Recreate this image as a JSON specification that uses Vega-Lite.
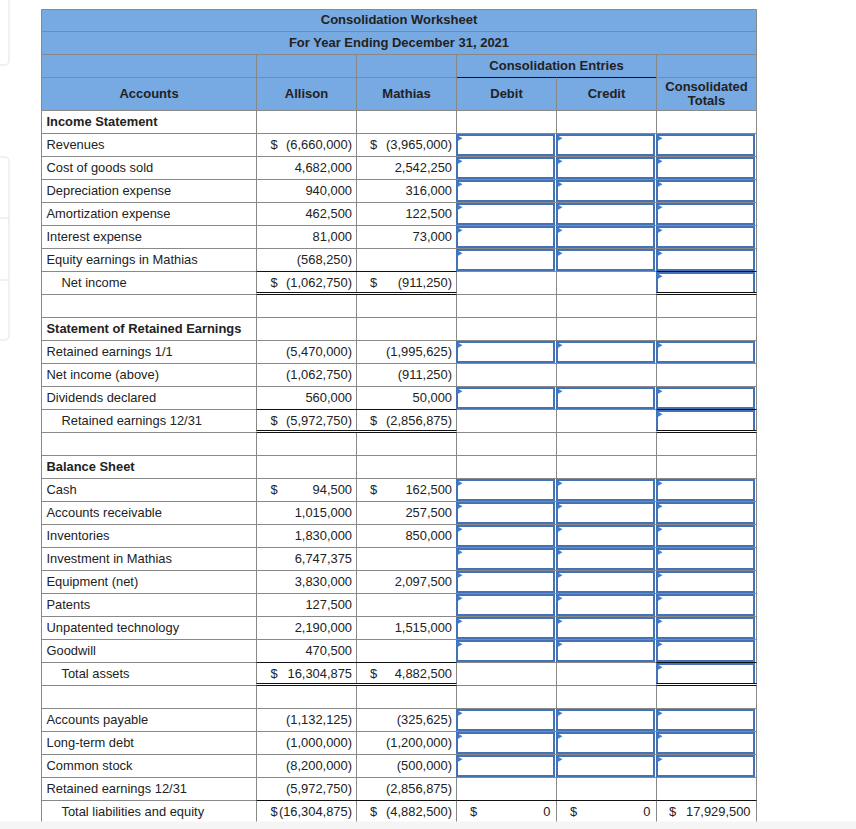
{
  "$schema": "https://vega.github.io/schema/vega-lite/v6.json",
  "width": 856,
  "height": 829,
  "padding": 0,
  "autosize": {"type": "none"},
  "background": "white",
  "config": {
    "view": {"stroke": null},
    "text": {"font": "Liberation Sans", "fontSize": 12.9, "fill": "#222222", "baseline": "middle"}
  },
  "datasets": {
    "one": [{}],
    "rows": [
      {"r": 0, "kind": "section", "label": "Income Statement"},
      {"r": 1, "kind": "item", "label": "Revenues", "aS": "$", "a": "(6,660,000)", "mS": "$", "m": "(3,965,000)", "entry": "dct"},
      {"r": 2, "kind": "item", "label": "Cost of goods sold", "a": "4,682,000", "m": "2,542,250", "entry": "dct"},
      {"r": 3, "kind": "item", "label": "Depreciation expense", "a": "940,000", "m": "316,000", "entry": "dct"},
      {"r": 4, "kind": "item", "label": "Amortization expense", "a": "462,500", "m": "122,500", "entry": "dct"},
      {"r": 5, "kind": "item", "label": "Interest expense", "a": "81,000", "m": "73,000", "entry": "dct"},
      {"r": 6, "kind": "item", "label": "Equity earnings in Mathias", "a": "(568,250)", "entry": "dct"},
      {"r": 7, "kind": "total", "label": "Net income", "aS": "$", "a": "(1,062,750)", "mS": "$", "m": "(911,250)", "entry": "t"},
      {"r": 8, "kind": "blank"},
      {"r": 9, "kind": "section", "label": "Statement of Retained Earnings"},
      {"r": 10, "kind": "item", "label": "Retained earnings 1/1", "a": "(5,470,000)", "m": "(1,995,625)", "entry": "dct"},
      {"r": 11, "kind": "item", "label": "Net income (above)", "a": "(1,062,750)", "m": "(911,250)"},
      {"r": 12, "kind": "item", "label": "Dividends declared", "a": "560,000", "m": "50,000", "entry": "dct"},
      {"r": 13, "kind": "total", "label": "Retained earnings 12/31", "aS": "$", "a": "(5,972,750)", "mS": "$", "m": "(2,856,875)", "entry": "t"},
      {"r": 14, "kind": "blank"},
      {"r": 15, "kind": "section", "label": "Balance Sheet"},
      {"r": 16, "kind": "item", "label": "Cash", "aS": "$", "a": "94,500", "mS": "$", "m": "162,500", "entry": "dct"},
      {"r": 17, "kind": "item", "label": "Accounts receivable", "a": "1,015,000", "m": "257,500", "entry": "dct"},
      {"r": 18, "kind": "item", "label": "Inventories", "a": "1,830,000", "m": "850,000", "entry": "dct"},
      {"r": 19, "kind": "item", "label": "Investment in Mathias", "a": "6,747,375", "entry": "dct"},
      {"r": 20, "kind": "item", "label": "Equipment (net)", "a": "3,830,000", "m": "2,097,500", "entry": "dct"},
      {"r": 21, "kind": "item", "label": "Patents", "a": "127,500", "entry": "dct"},
      {"r": 22, "kind": "item", "label": "Unpatented technology", "a": "2,190,000", "m": "1,515,000", "entry": "dct"},
      {"r": 23, "kind": "item", "label": "Goodwill", "a": "470,500", "entry": "dct"},
      {"r": 24, "kind": "total", "label": "Total assets", "aS": "$", "a": "16,304,875", "mS": "$", "m": "4,882,500", "entry": "t"},
      {"r": 25, "kind": "blank"},
      {"r": 26, "kind": "item", "label": "Accounts payable", "a": "(1,132,125)", "m": "(325,625)", "entry": "dct"},
      {"r": 27, "kind": "item", "label": "Long-term debt", "a": "(1,000,000)", "m": "(1,200,000)", "entry": "dct"},
      {"r": 28, "kind": "item", "label": "Common stock", "a": "(8,200,000)", "m": "(500,000)", "entry": "dct"},
      {"r": 29, "kind": "item", "label": "Retained earnings 12/31", "a": "(5,972,750)", "m": "(2,856,875)"},
      {"r": 30, "kind": "grand", "label": "Total liabilities and equity", "aS": "$", "a": "(16,304,875)", "mS": "$", "m": "(4,882,500)", "dS": "$", "d": "0", "cS": "$", "c": "0", "tS": "$", "t": "17,929,500"}
    ]
  },
  "data": {"name": "rows"},
  "layer": [
    {"data": {"name": "one"}, "mark": {"type": "rect", "fill": "#77A9E3"},
     "encoding": {
       "x": {"datum": 0, "type": "quantitative", "scale": {"domain": [-0.415, 8.145], "nice": false, "zero": false}, "axis": null},
       "x2": {"datum": 7.15},
       "y": {"datum": -4.3913, "type": "quantitative", "scale": {"domain": [-4.8043, 31.2391], "nice": false, "zero": false, "reverse": true}, "axis": null},
       "y2": {"datum": 0}}},

    {"data": {"name": "one"}, "mark": {"type": "rule", "stroke": "#888888", "strokeWidth": 1},
     "encoding": {"x": {"datum": 0, "axis": null}, "x2": {"datum": 7.15}, "y": {"datum": -4.3913, "axis": null}}},
    {"data": {"name": "one"}, "mark": {"type": "rule", "stroke": "#888888", "strokeWidth": 1},
     "encoding": {"x": {"datum": 0, "axis": null}, "x2": {"datum": 7.15}, "y": {"datum": -3.4348, "axis": null}}},
    {"data": {"name": "one"}, "mark": {"type": "rule", "stroke": "#888888", "strokeWidth": 1},
     "encoding": {"x": {"datum": 0, "axis": null}, "x2": {"datum": 7.15}, "y": {"datum": -2.4348, "axis": null}}},
    {"data": {"name": "one"}, "mark": {"type": "rule", "stroke": "#888888", "strokeWidth": 1},
     "encoding": {"x": {"datum": 0, "axis": null}, "x2": {"datum": 4.15}, "y": {"datum": -1.4348, "axis": null}}},
    {"data": {"name": "one"}, "mark": {"type": "rule", "stroke": "#888888", "strokeWidth": 1},
     "encoding": {"x": {"datum": 6.15, "axis": null}, "x2": {"datum": 7.15}, "y": {"datum": -1.4348, "axis": null}}},
    {"data": {"name": "one"}, "mark": {"type": "rule", "stroke": "#111111", "strokeWidth": 1},
     "encoding": {"x": {"datum": 4.15, "axis": null}, "x2": {"datum": 6.15}, "y": {"datum": -1.4348, "axis": null}}},

    {"mark": {"type": "rule", "stroke": "#888888", "strokeWidth": 1},
     "encoding": {"x": {"datum": 0, "axis": null}, "x2": {"datum": 7.15}, "y": {"field": "r", "type": "quantitative", "axis": null}}},

    {"data": {"name": "one"}, "mark": {"type": "rule", "stroke": "#888888", "strokeWidth": 1},
     "encoding": {"x": {"datum": 0, "axis": null}, "y": {"datum": -4.3913, "axis": null}, "y2": {"datum": 31.5}}},
    {"data": {"name": "one"}, "mark": {"type": "rule", "stroke": "#888888", "strokeWidth": 1},
     "encoding": {"x": {"datum": 7.15, "axis": null}, "y": {"datum": -4.3913, "axis": null}, "y2": {"datum": 31.5}}},
    {"data": {"name": "one"}, "mark": {"type": "rule", "stroke": "#888888", "strokeWidth": 1},
     "encoding": {"x": {"datum": 2.15, "axis": null}, "y": {"datum": -2.4348, "axis": null}, "y2": {"datum": 31.5}}},
    {"data": {"name": "one"}, "mark": {"type": "rule", "stroke": "#888888", "strokeWidth": 1},
     "encoding": {"x": {"datum": 3.15, "axis": null}, "y": {"datum": -2.4348, "axis": null}, "y2": {"datum": 31.5}}},
    {"data": {"name": "one"}, "mark": {"type": "rule", "stroke": "#888888", "strokeWidth": 1},
     "encoding": {"x": {"datum": 4.15, "axis": null}, "y": {"datum": -2.4348, "axis": null}, "y2": {"datum": 31.5}}},
    {"data": {"name": "one"}, "mark": {"type": "rule", "stroke": "#888888", "strokeWidth": 1},
     "encoding": {"x": {"datum": 6.15, "axis": null}, "y": {"datum": -2.4348, "axis": null}, "y2": {"datum": 31.5}}},
    {"data": {"name": "one"}, "mark": {"type": "rule", "stroke": "#888888", "strokeWidth": 1},
     "encoding": {"x": {"datum": 5.15, "axis": null}, "y": {"datum": -1.4348, "axis": null}, "y2": {"datum": 31.5}}},

    {"transform": [{"filter": "datum.entry == 'dct'"}],
     "mark": {"type": "rect", "fill": "white", "stroke": "#4372B7", "strokeWidth": 2, "xOffset": 0.5, "x2Offset": -2.5, "yOffset": 1.5, "y2Offset": 21.5},
     "encoding": {"x": {"datum": 4.15, "axis": null}, "x2": {"datum": 5.15}, "y": {"field": "r", "type": "quantitative", "axis": null}, "y2": {"field": "r"}}},
    {"transform": [{"filter": "datum.entry == 'dct'"}],
     "mark": {"type": "rect", "fill": "white", "stroke": "#4372B7", "strokeWidth": 2, "xOffset": 0.5, "x2Offset": -2.5, "yOffset": 1.5, "y2Offset": 21.5},
     "encoding": {"x": {"datum": 5.15, "axis": null}, "x2": {"datum": 6.15}, "y": {"field": "r", "type": "quantitative", "axis": null}, "y2": {"field": "r"}}},
    {"transform": [{"filter": "datum.entry == 'dct' || datum.entry == 't'"}],
     "mark": {"type": "rect", "fill": "white", "stroke": "#4372B7", "strokeWidth": 2, "xOffset": 0.5, "x2Offset": -2.5, "yOffset": 1.5, "y2Offset": 21.5},
     "encoding": {"x": {"datum": 6.15, "axis": null}, "x2": {"datum": 7.15}, "y": {"field": "r", "type": "quantitative", "axis": null}, "y2": {"field": "r"}}},

    {"transform": [{"filter": "datum.entry == 'dct'"}],
     "mark": {"type": "point", "shape": "triangle-right", "filled": true, "fill": "#3F7DCF", "opacity": 1, "size": 30, "strokeWidth": 0, "xOffset": 3.6, "yOffset": 4.8},
     "encoding": {"x": {"datum": 4.15, "axis": null}, "y": {"field": "r", "type": "quantitative", "axis": null}}},
    {"transform": [{"filter": "datum.entry == 'dct'"}],
     "mark": {"type": "point", "shape": "triangle-right", "filled": true, "fill": "#3F7DCF", "opacity": 1, "size": 30, "strokeWidth": 0, "xOffset": 3.6, "yOffset": 4.8},
     "encoding": {"x": {"datum": 5.15, "axis": null}, "y": {"field": "r", "type": "quantitative", "axis": null}}},
    {"transform": [{"filter": "datum.entry == 'dct' || datum.entry == 't'"}],
     "mark": {"type": "point", "shape": "triangle-right", "filled": true, "fill": "#3F7DCF", "opacity": 1, "size": 30, "strokeWidth": 0, "xOffset": 3.6, "yOffset": 4.8},
     "encoding": {"x": {"datum": 6.15, "axis": null}, "y": {"field": "r", "type": "quantitative", "axis": null}}},

    {"transform": [{"filter": "datum.kind == 'total' || datum.kind == 'grand'"}],
     "mark": {"type": "rule", "stroke": "#111111", "strokeWidth": 1},
     "encoding": {"x": {"datum": 2.15, "axis": null}, "x2": {"datum": 4.15}, "y": {"field": "r", "type": "quantitative", "axis": null}}},
    {"transform": [{"filter": "datum.kind == 'total' || datum.kind == 'grand'"}],
     "mark": {"type": "rule", "stroke": "#111111", "strokeWidth": 1},
     "encoding": {"x": {"datum": 6.15, "axis": null}, "x2": {"datum": 7.15}, "y": {"field": "r", "type": "quantitative", "axis": null}}},
    {"transform": [{"filter": "datum.kind == 'grand'"}],
     "mark": {"type": "rule", "stroke": "#111111", "strokeWidth": 1},
     "encoding": {"x": {"datum": 4.15, "axis": null}, "x2": {"datum": 6.15}, "y": {"field": "r", "type": "quantitative", "axis": null}}},

    {"transform": [{"filter": "datum.kind == 'total'"}],
     "mark": {"type": "rule", "stroke": "#ffffff", "strokeWidth": 1, "yOffset": 22},
     "encoding": {"x": {"datum": 2.15, "axis": null}, "x2": {"datum": 4.15}, "y": {"field": "r", "type": "quantitative", "axis": null}}},
    {"transform": [{"filter": "datum.kind == 'total'"}],
     "mark": {"type": "rule", "stroke": "#ffffff", "strokeWidth": 1, "yOffset": 22},
     "encoding": {"x": {"datum": 6.15, "axis": null}, "x2": {"datum": 7.15}, "y": {"field": "r", "type": "quantitative", "axis": null}}},
    {"transform": [{"filter": "datum.kind == 'total'"}],
     "mark": {"type": "rule", "stroke": "#111111", "strokeWidth": 1, "yOffset": 21},
     "encoding": {"x": {"datum": 2.15, "axis": null}, "x2": {"datum": 4.15}, "y": {"field": "r", "type": "quantitative", "axis": null}}},
    {"transform": [{"filter": "datum.kind == 'total'"}],
     "mark": {"type": "rule", "stroke": "#111111", "strokeWidth": 1, "yOffset": 23},
     "encoding": {"x": {"datum": 2.15, "axis": null}, "x2": {"datum": 4.15}, "y": {"field": "r", "type": "quantitative", "axis": null}}},
    {"transform": [{"filter": "datum.kind == 'total'"}],
     "mark": {"type": "rule", "stroke": "#111111", "strokeWidth": 1, "yOffset": 21},
     "encoding": {"x": {"datum": 6.15, "axis": null}, "x2": {"datum": 7.15}, "y": {"field": "r", "type": "quantitative", "axis": null}}},
    {"transform": [{"filter": "datum.kind == 'total'"}],
     "mark": {"type": "rule", "stroke": "#111111", "strokeWidth": 1, "yOffset": 23},
     "encoding": {"x": {"datum": 6.15, "axis": null}, "x2": {"datum": 7.15}, "y": {"field": "r", "type": "quantitative", "axis": null}}},

    {"transform": [{"filter": "datum.kind == 'item'"}],
     "mark": {"type": "text", "align": "left", "dx": 5, "dy": 11.5},
     "encoding": {"x": {"datum": 0, "axis": null}, "y": {"field": "r", "type": "quantitative", "axis": null}, "text": {"field": "label"}}},
    {"transform": [{"filter": "datum.kind == 'section'"}],
     "mark": {"type": "text", "align": "left", "dx": 5, "dy": 11.5, "fontWeight": "bold"},
     "encoding": {"x": {"datum": 0, "axis": null}, "y": {"field": "r", "type": "quantitative", "axis": null}, "text": {"field": "label"}}},
    {"transform": [{"filter": "datum.kind == 'total' || datum.kind == 'grand'"}],
     "mark": {"type": "text", "align": "left", "dx": 20, "dy": 11.5},
     "encoding": {"x": {"datum": 0, "axis": null}, "y": {"field": "r", "type": "quantitative", "axis": null}, "text": {"field": "label"}}},

    {"transform": [{"filter": "datum.a"}],
     "mark": {"type": "text", "align": "right", "dx": -4.5, "dy": 11.5},
     "encoding": {"x": {"datum": 3.15, "axis": null}, "y": {"field": "r", "type": "quantitative", "axis": null}, "text": {"field": "a"}}},
    {"transform": [{"filter": "datum.aS"}],
     "mark": {"type": "text", "align": "left", "dx": 14, "dy": 11.5},
     "encoding": {"x": {"datum": 2.15, "axis": null}, "y": {"field": "r", "type": "quantitative", "axis": null}, "text": {"field": "aS"}}},
    {"transform": [{"filter": "datum.m"}],
     "mark": {"type": "text", "align": "right", "dx": -4.5, "dy": 11.5},
     "encoding": {"x": {"datum": 4.15, "axis": null}, "y": {"field": "r", "type": "quantitative", "axis": null}, "text": {"field": "m"}}},
    {"transform": [{"filter": "datum.mS"}],
     "mark": {"type": "text", "align": "left", "dx": 13.5, "dy": 11.5},
     "encoding": {"x": {"datum": 3.15, "axis": null}, "y": {"field": "r", "type": "quantitative", "axis": null}, "text": {"field": "mS"}}},
    {"transform": [{"filter": "datum.d"}],
     "mark": {"type": "text", "align": "right", "dx": -6, "dy": 11.5},
     "encoding": {"x": {"datum": 5.15, "axis": null}, "y": {"field": "r", "type": "quantitative", "axis": null}, "text": {"field": "d"}}},
    {"transform": [{"filter": "datum.dS"}],
     "mark": {"type": "text", "align": "left", "dx": 13.5, "dy": 11.5},
     "encoding": {"x": {"datum": 4.15, "axis": null}, "y": {"field": "r", "type": "quantitative", "axis": null}, "text": {"field": "dS"}}},
    {"transform": [{"filter": "datum.c"}],
     "mark": {"type": "text", "align": "right", "dx": -6, "dy": 11.5},
     "encoding": {"x": {"datum": 6.15, "axis": null}, "y": {"field": "r", "type": "quantitative", "axis": null}, "text": {"field": "c"}}},
    {"transform": [{"filter": "datum.cS"}],
     "mark": {"type": "text", "align": "left", "dx": 13.5, "dy": 11.5},
     "encoding": {"x": {"datum": 5.15, "axis": null}, "y": {"field": "r", "type": "quantitative", "axis": null}, "text": {"field": "cS"}}},
    {"transform": [{"filter": "datum.t"}],
     "mark": {"type": "text", "align": "right", "dx": -6, "dy": 11.5},
     "encoding": {"x": {"datum": 7.15, "axis": null}, "y": {"field": "r", "type": "quantitative", "axis": null}, "text": {"field": "t"}}},
    {"transform": [{"filter": "datum.tS"}],
     "mark": {"type": "text", "align": "left", "dx": 12.5, "dy": 11.5},
     "encoding": {"x": {"datum": 6.15, "axis": null}, "y": {"field": "r", "type": "quantitative", "axis": null}, "text": {"field": "tS"}}},

    {"data": {"name": "one"}, "mark": {"type": "text", "align": "center", "fontWeight": "bold", "fontSize": 13, "fill": "#222222"},
     "encoding": {"x": {"datum": 3.575, "axis": null}, "y": {"datum": -3.913, "axis": null}, "text": {"value": "Consolidation Worksheet"}}},
    {"data": {"name": "one"}, "mark": {"type": "text", "align": "center", "fontWeight": "bold", "fontSize": 13, "fill": "#222222"},
     "encoding": {"x": {"datum": 3.575, "axis": null}, "y": {"datum": -2.935, "axis": null}, "text": {"value": "For Year Ending December 31, 2021"}}},
    {"data": {"name": "one"}, "mark": {"type": "text", "align": "center", "fontWeight": "bold", "fontSize": 13, "fill": "#222222"},
     "encoding": {"x": {"datum": 5.15, "axis": null}, "y": {"datum": -1.935, "axis": null}, "text": {"value": "Consolidation Entries"}}},
    {"data": {"name": "one"}, "mark": {"type": "text", "align": "center", "fontWeight": "bold", "fontSize": 13, "fill": "#222222"},
     "encoding": {"x": {"datum": 1.075, "axis": null}, "y": {"datum": -0.717, "axis": null}, "text": {"value": "Accounts"}}},
    {"data": {"name": "one"}, "mark": {"type": "text", "align": "center", "fontWeight": "bold", "fontSize": 13, "fill": "#222222"},
     "encoding": {"x": {"datum": 2.65, "axis": null}, "y": {"datum": -0.717, "axis": null}, "text": {"value": "Allison"}}},
    {"data": {"name": "one"}, "mark": {"type": "text", "align": "center", "fontWeight": "bold", "fontSize": 13, "fill": "#222222"},
     "encoding": {"x": {"datum": 3.65, "axis": null}, "y": {"datum": -0.717, "axis": null}, "text": {"value": "Mathias"}}},
    {"data": {"name": "one"}, "mark": {"type": "text", "align": "center", "fontWeight": "bold", "fontSize": 13, "fill": "#222222"},
     "encoding": {"x": {"datum": 4.65, "axis": null}, "y": {"datum": -0.717, "axis": null}, "text": {"value": "Debit"}}},
    {"data": {"name": "one"}, "mark": {"type": "text", "align": "center", "fontWeight": "bold", "fontSize": 13, "fill": "#222222"},
     "encoding": {"x": {"datum": 5.65, "axis": null}, "y": {"datum": -0.717, "axis": null}, "text": {"value": "Credit"}}},
    {"data": {"name": "one"}, "mark": {"type": "text", "align": "center", "fontWeight": "bold", "fontSize": 13, "fill": "#222222", "lineBreak": "\n", "lineHeight": 14.5},
     "encoding": {"x": {"datum": 6.65, "axis": null}, "y": {"datum": -1.035, "axis": null}, "text": {"value": "Consolidated\nTotals"}}},

    {"data": {"name": "one"}, "mark": {"type": "rect", "fill": "#f5f5f5"},
     "encoding": {"x": {"datum": -0.5, "axis": null}, "x2": {"datum": 8.3}, "y": {"datum": 30.913, "axis": null}, "y2": {"datum": 31.4}}},

    {"data": {"name": "one"}, "mark": {"type": "rect", "fill": null, "stroke": "#e2e2e2", "strokeWidth": 1, "cornerRadius": 4},
     "encoding": {"x": {"datum": -0.6, "axis": null}, "x2": {"datum": -0.325}, "y": {"datum": -5.1, "axis": null}, "y2": {"datum": -1.978}}},
    {"data": {"name": "one"}, "mark": {"type": "rect", "fill": null, "stroke": "#e2e2e2", "strokeWidth": 1, "cornerRadius": 4},
     "encoding": {"x": {"datum": -0.6, "axis": null}, "x2": {"datum": -0.325}, "y": {"datum": 2.022, "axis": null}, "y2": {"datum": 9.978}}},
    {"data": {"name": "one"}, "mark": {"type": "rule", "stroke": "#e2e2e2", "strokeWidth": 1},
     "encoding": {"x": {"datum": -0.6, "axis": null}, "x2": {"datum": -0.325}, "y": {"datum": 4.674, "axis": null}}},
    {"data": {"name": "one"}, "mark": {"type": "rule", "stroke": "#e2e2e2", "strokeWidth": 1},
     "encoding": {"x": {"datum": -0.6, "axis": null}, "x2": {"datum": -0.325}, "y": {"datum": 7.37, "axis": null}}}
  ]
}
